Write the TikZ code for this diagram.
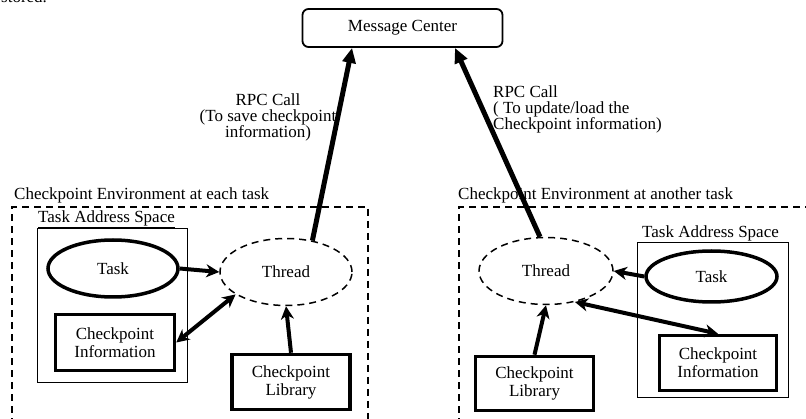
\documentclass[tikz,border=0pt]{standalone}
\usepackage{fontspec}
\setmainfont{Liberation Serif}
\usetikzlibrary{arrows.meta,calc,shapes.geometric}
\begin{document}
\begin{tikzpicture}[x=1pt,y=-1pt,
  every node/.style={font=\fontsize{17}{16}\selectfont, inner sep=0pt},
  thickbox/.style={draw, rectangle, line width=3.5pt, align=center},
  spacebox/.style={draw, rectangle, line width=1.6pt},
  taskell/.style={draw, ellipse, line width=3.5pt},
  threadell/.style={draw, ellipse, line width=1.5pt, dash pattern=on 7pt off 5pt},
  envframe/.style={line width=1.8pt, dash pattern=on 7pt off 5pt},
  mcbox/.style={draw, rectangle, rounded corners=6pt, line width=1.8pt},
  headtip/.tip={Stealth[length=13pt,width=13pt,inset=4pt]},
  link/.style={line width=4pt, -headtip},
  dlink/.style={line width=4pt, headtip-headtip},
  rpc/.style={line width=5pt, -{Triangle[length=15pt,width=13pt]}},
  lbl/.style={align=left}
]
\useasboundingbox (0,0) rectangle (806,419);
\clip (0,0) rectangle (806,419);

% fragment of surrounding text
\node[anchor=base west] (frag) at (1,3) {stored.};

% Message center
\node[mcbox, minimum width=200pt, minimum height=38pt] (mc) at (402.5,28) {Message Center};

% ---------- left environment ----------
\draw[envframe] (12,425) -- (12,207) -- (368,207) -- (368,425);
\node[anchor=west] (envL) at (14,195) {Checkpoint Environment at each task};
\node[spacebox, minimum width=150pt, minimum height=154pt] (tasL) at (112.5,305.5) {};
\node[anchor=west] (tasLt) at (38,219) {\underline{Task Address Space}};
\node[taskell, minimum width=130pt, minimum height=57pt] (taskL) at (113,268.5) {Task};
\node[thickbox, minimum width=119pt, minimum height=56pt] (infoL) at (115,342.5) {Checkpoint\\[2pt]Information};
\node[threadell, minimum width=132pt, minimum height=67pt] (threadL) at (286,272) {Thread};
\node[thickbox, minimum width=118pt, minimum height=55pt] (libL) at (291,382) {Checkpoint\\[2pt]Library};

\draw[link] (taskL.east) -- (threadL.west);
\draw[dlink] (infoL.east) -- (threadL.204);
\draw[link] (libL.north) -- (threadL.south);

% ---------- right environment ----------
\draw[envframe] (459,425) -- (459,207) -- (812,207);
\node[anchor=west] (envR) at (458,195) {Checkpoint Environment at another task};
\node[spacebox, minimum width=151pt, minimum height=155pt] (tasR) at (713,320) {};
\node[anchor=west] (tasRt) at (642,234) {\underline{Task Address Space}};
\node[taskell, minimum width=131pt, minimum height=51pt] (taskR) at (711.5,276.5) {Task};
\node[thickbox, minimum width=117pt, minimum height=55pt] (infoR) at (718,363) {Checkpoint\\[2pt]Information};
\node[threadell, minimum width=134pt, minimum height=67pt] (threadR) at (546,271) {Thread};
\node[thickbox, minimum width=118pt, minimum height=54pt] (libR) at (534.5,383.5) {Checkpoint\\[2pt]Library};

\draw[link] (taskR.west) -- (threadR.east);
\draw[dlink] (threadR.313) -- (infoR.north);
\draw[link] (libR.north) -- (threadR.south);

% ---------- RPC calls ----------
\coordinate (mcL) at ($(mc.south west)!0.25!(mc.south east)$);
\coordinate (mcR) at ($(mc.south west)!0.76!(mc.south east)$);
\draw[rpc] (threadL.50) -- (mcL);
\draw[rpc] (threadR.100) -- (mcR);

\node[align=center] (rpcL) at (268,117) {RPC Call\\(To save checkpoint\\information)};
\node[lbl, anchor=north west] (rpcR) at (493,86) {RPC Call\\( To update/load the\\Checkpoint information)};
\end{tikzpicture}
\end{document}
